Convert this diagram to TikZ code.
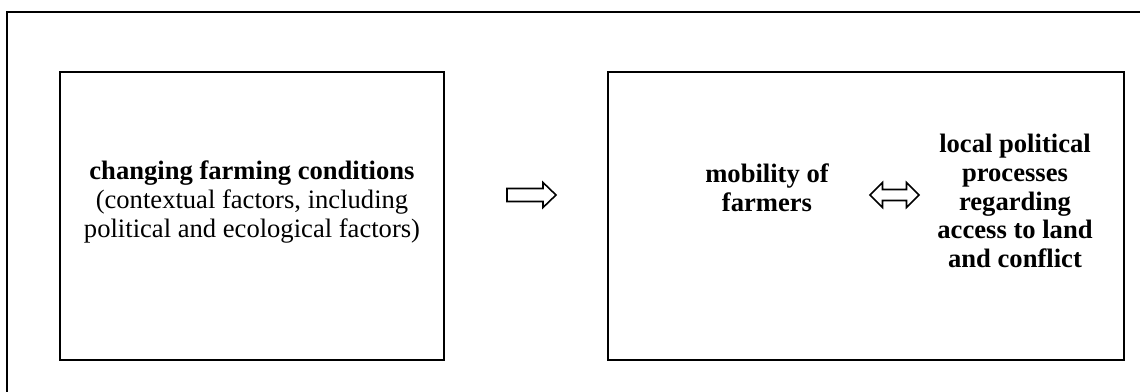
\documentclass[tikz,border=0pt]{standalone}
\usepackage{fontspec}
\setmainfont{Liberation Serif}
\tikzset{
  panel/.style={draw,line width=1pt,minimum width=192pt,minimum height=144pt,inner sep=0pt},
  txt/.style={align=center,inner sep=0pt,font=\fontsize{13.3}{14.3}\selectfont},
  blockarrow/.style={draw,line width=0.8pt,line join=miter}
}
\begin{document}
\begin{tikzpicture}[x=0.5pt,y=-0.5pt]
  \useasboundingbox (0,0) rectangle (1140,391);
  \clip (0,0) rectangle (1140,391);
  % --- cornice esterna (tagliata a destra e in basso) ---
  \draw[line width=1pt] (7,400) -- (7,12) -- (1150,12);
  % --- riquadri ---
  \node[panel] (cond) at (252,216) {};
  \node[panel,minimum width=258pt] (local) at (866,216) {};
  % --- testi ---
  \node[txt] (condtxt) at (252,202) {\textbf{changing farming conditions}\\(contextual factors, including\\political and ecological factors)};
  \node[txt,font=\fontsize{13.3}{14.3}\selectfont\bfseries] (mobility) at (767,188) {mobility of\\farmers};
  \node[txt,font=\fontsize{13.3}{14.3}\selectfont\bfseries] (politics) at (1015,201) {local political\\processes\\regarding\\access to land\\and conflict};
  % --- frecce ---
  \coordinate (fwd) at (531.5,195);
  \coordinate (both) at (894.5,195);
  \draw[blockarrow,shift={(fwd)}] (-24.5,-6.5) -- (11.5,-6.5) -- (11.5,-12.5) -- (24.5,0)
        -- (11.5,12.5) -- (11.5,6.5) -- (-24.5,6.5) -- cycle;
  \draw[blockarrow,shift={(both)}] (-24.5,0) -- (-12,-12.5) -- (-12,-5.5) -- (12,-5.5) -- (12,-12.5)
        -- (24.5,0) -- (12,12.5) -- (12,5.5) -- (-12,5.5) -- (-12,12.5) -- cycle;
\end{tikzpicture}
\end{document}
